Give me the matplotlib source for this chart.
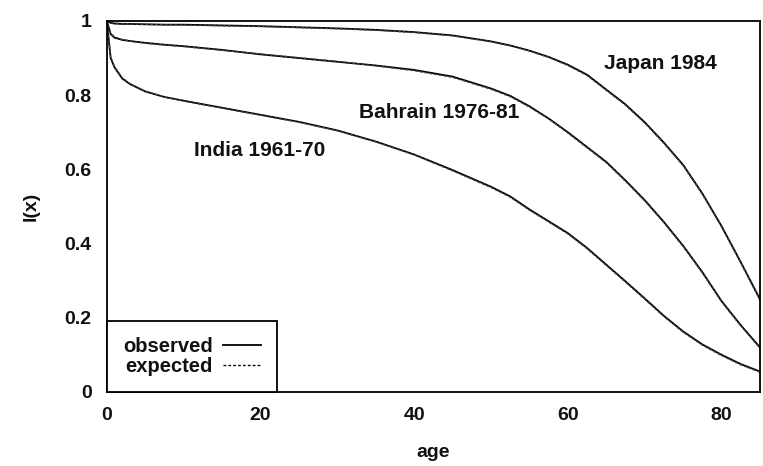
import matplotlib
matplotlib.use("Agg")
import matplotlib.pyplot as plt
from matplotlib.lines import Line2D

plt.rcParams['font.family'] = ['Liberation Sans', 'DejaVu Sans']

# Life-table survivorship l(x) by age
ages = [0, 0.5, 1, 2, 3, 5, 7.5, 10, 15, 20, 25, 30, 35, 40, 45, 50, 52.5,
        55, 57.5, 60, 62.5, 65, 67.5, 70, 72.5, 75, 77.5, 80, 82.5, 85]

japan_obs = [1.0, 0.995, 0.993, 0.992, 0.992, 0.991, 0.990, 0.990, 0.988, 0.986,
             0.983, 0.980, 0.976, 0.970, 0.961, 0.945, 0.934, 0.920, 0.903, 0.882,
             0.855, 0.815, 0.775, 0.727, 0.672, 0.612, 0.535, 0.447, 0.350, 0.250]
japan_exp = [1.0, 0.996, 0.994, 0.993, 0.992, 0.991, 0.990, 0.989, 0.987, 0.985,
             0.982, 0.979, 0.975, 0.969, 0.960, 0.944, 0.933, 0.919, 0.902, 0.880,
             0.853, 0.813, 0.773, 0.725, 0.670, 0.610, 0.533, 0.445, 0.348, 0.247]

bahrain_obs = [1.0, 0.965, 0.955, 0.949, 0.946, 0.941, 0.936, 0.932, 0.922, 0.910,
               0.900, 0.890, 0.880, 0.868, 0.850, 0.818, 0.798, 0.770, 0.737, 0.700,
               0.660, 0.620, 0.570, 0.517, 0.458, 0.394, 0.323, 0.245, 0.180, 0.120]
bahrain_exp = [1.0, 0.967, 0.957, 0.950, 0.946, 0.940, 0.935, 0.931, 0.921, 0.911,
               0.901, 0.891, 0.879, 0.866, 0.848, 0.816, 0.796, 0.768, 0.736, 0.698,
               0.658, 0.618, 0.568, 0.515, 0.456, 0.392, 0.321, 0.243, 0.178, 0.118]

india_obs = [1.0, 0.900, 0.875, 0.845, 0.830, 0.810, 0.795, 0.785, 0.766, 0.747,
             0.728, 0.705, 0.675, 0.640, 0.598, 0.553, 0.527, 0.492, 0.460, 0.428,
             0.388, 0.343, 0.298, 0.252, 0.205, 0.163, 0.128, 0.100, 0.075, 0.055]
india_exp = [1.0, 0.903, 0.877, 0.847, 0.831, 0.811, 0.795, 0.784, 0.765, 0.746,
             0.727, 0.704, 0.674, 0.639, 0.596, 0.551, 0.525, 0.490, 0.458, 0.426,
             0.386, 0.341, 0.296, 0.250, 0.203, 0.161, 0.126, 0.098, 0.073, 0.053]

labels = ["Japan 1984", "Bahrain 1976-81", "India 1961-70"]
label_pos = [(72.0, 0.885), (43.2, 0.752), (19.9, 0.650)]

fig = plt.figure(figsize=(7.63, 4.66), dpi=100)
ax = fig.add_axes([0.140, 0.159, 0.856, 0.796])

for obs, exp in [(japan_obs, japan_exp), (bahrain_obs, bahrain_exp), (india_obs, india_exp)]:
    ax.plot(ages, obs, color='black', lw=1.3)
    ax.plot(ages, exp, color='#444444', lw=1.0, linestyle=(0, (2, 1.5)))

for text, (x, y) in zip(labels, label_pos):
    ax.text(x, y, text, ha='center', va='center', fontsize=15, fontweight='bold',
            color='#111111')

ax.set_xlim(0, 85)
ax.set_ylim(0, 1)
ax.set_xticks([0, 20, 40, 60, 80])
ax.set_yticks([0, 0.2, 0.4, 0.6, 0.8, 1.0])
ax.set_yticklabels(['0', '0.2', '0.4', '0.6', '0.8', '1'])
ax.tick_params(direction='in', length=0, labelsize=14, pad=11,
               labelcolor='#111111')
for t in ax.get_xticklabels() + ax.get_yticklabels():
    t.set_fontweight('bold')
for s in ax.spines.values():
    s.set_linewidth(1.3)

ax.set_xlabel('age', fontsize=14, fontweight='bold', labelpad=14, color='#111111')
ax.set_ylabel('l(x)', fontsize=14, fontweight='bold', labelpad=18, color='#111111')

handles = [Line2D([], [], color='black', lw=1.3),
           Line2D([], [], color='black', lw=1.0, linestyle=(0, (2, 1.5)))]
leg = ax.legend(handles, ['observed', 'expected'], loc='lower left',
                bbox_to_anchor=(0, 0), borderaxespad=0, markerfirst=False,
                prop={'size': 14.5, 'weight': 'bold'}, handlelength=1.9,
                handletextpad=0.5, labelspacing=0.05, borderpad=0.8,
                fancybox=False, edgecolor='black', framealpha=1)
leg.get_frame().set_linewidth(1.3)
for t in leg.get_texts():
    t.set_ha('right')
    t.set_color('#111111')

fig.savefig('out.png', dpi=100)
